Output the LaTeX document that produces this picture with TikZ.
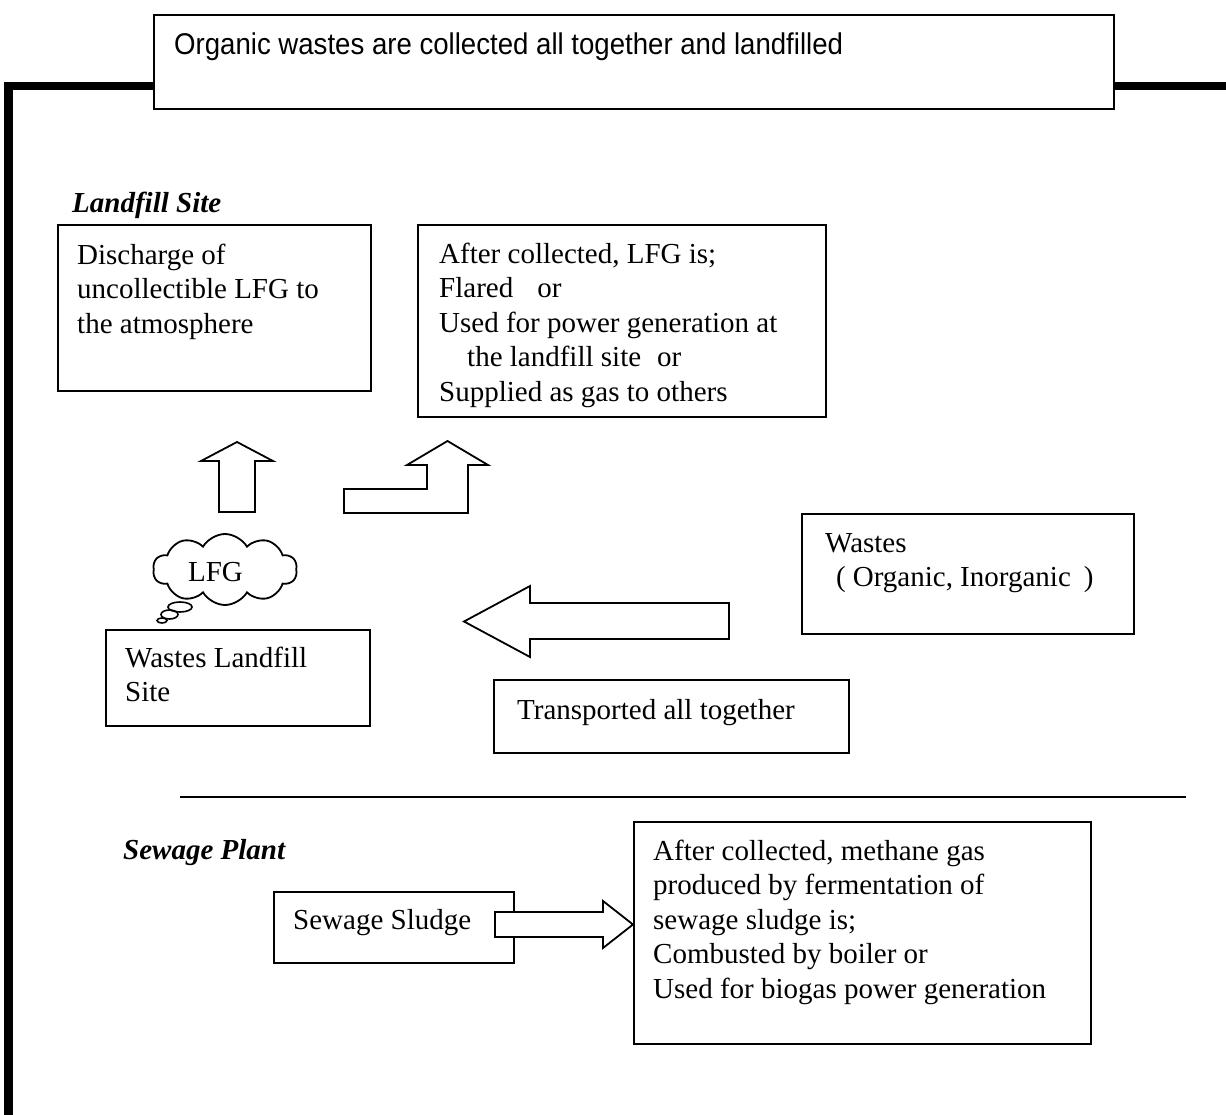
\documentclass[tikz,border=0pt]{standalone}
\usepackage{fontspec}
\setmainfont{Liberation Serif}
\newfontfamily\bannerfont[FakeStretch=0.92]{Liberation Sans}
\usetikzlibrary{shapes.symbols}
% strut fixing the height of the first text line
\newcommand{\firstlinestrut}{\rule{0pt}{22pt}}

\begin{document}
\begin{tikzpicture}[x=1pt,y=-1pt,
  box/.style={draw, line width=1.8pt, rectangle, inner sep=0pt, anchor=north west},
  txt/.style={inner sep=0pt, anchor=north west, align=left, font=\fontsize{29}{34.5}\selectfont},
  heading/.style={inner sep=0pt, anchor=base west, font=\fontsize{29}{34.5}\selectfont\bfseries\itshape},
  frameline/.style={line width=8.5pt, line join=miter, line cap=butt},
  blockarrow/.style={draw, fill=white, line width=1.8pt, line join=miter},
]
\useasboundingbox (0,0) rectangle (1226,1115);

% heavy outer frame
\draw[frameline] (153,86) -- (8.5,86) -- (8.5,1115);
\draw[frameline] (1113,86) -- (1226,86);

% title banner
\node[box, fill=white, minimum width=960pt, minimum height=94pt] (banner) at (153,14) {};
\node[anchor=base west, inner sep=0pt, font=\bannerfont\fontsize{30}{36}\selectfont] (bannertxt) at (174,55)
  {Organic wastes are collected all together and landfilled};

% ---- landfill site ----
\node[heading] (lfhead) at (72,213) {Landfill Site};

\node[box, minimum width=313pt, minimum height=166pt] (discharge) at (57,224) {};
\node[txt] (dischargetxt) at (77,242)
  {\firstlinestrut Discharge of\\uncollectible LFG to\\the atmosphere};

\node[box, minimum width=408pt, minimum height=192pt] (collected) at (417,224) {};
\node[txt] (collectedtxt) at (439,241)
  {\firstlinestrut After collected, LFG is;\\
   Flared\hspace{24pt}or\\
   Used for power generation at\\
   \hspace*{28pt}the landfill site\hspace{16pt}or\\
   Supplied as gas to others};

% upward block arrows
\draw[blockarrow] (219,512) -- (219,461) -- (201,461) -- (237,442) -- (273,461)
  -- (255,461) -- (255,512) -- cycle;
\draw[blockarrow] (344,513) -- (344,489) -- (427,489) -- (427,465) -- (407,465)
  -- (447.5,441) -- (488,465) -- (468,465) -- (468,513) -- cycle;

% gas cloud
\node[cloud, draw, line width=1.8pt, cloud ignores aspect, cloud puffs=10, cloud puff arc=120,
  minimum width=144pt, minimum height=71pt, inner sep=0pt] (lfgcloud) at (225,569.5) {};
\node[anchor=base, inner sep=0pt, font=\fontsize{29}{34.5}\selectfont] (lfgtxt) at (215.5,581) {LFG};
\draw[line width=1.6pt] (180,607) ellipse [x radius=12pt, y radius=5pt];
\draw[line width=1.6pt] (169.5,614.5) ellipse [x radius=8.5pt, y radius=4.5pt];
\draw[line width=1.6pt] (162,620.5) ellipse [x radius=5pt, y radius=2.5pt];

\node[box, minimum width=264pt, minimum height=96pt] (landfill) at (105,629) {};
\node[txt] (landfilltxt) at (125,645) {\firstlinestrut Wastes Landfill\\Site};

% wastes and transport
\node[box, minimum width=332pt, minimum height=120pt] (wastes) at (801,513) {};
\node[txt] (wastestxt) at (825,530)
  {\firstlinestrut Wastes\\\hspace*{11pt}(\hspace{7pt}Organic, Inorganic\hspace{13pt})};

\draw[blockarrow] (729,603) -- (530,603) -- (530,586) -- (464,621.5) -- (530,657)
  -- (530,639) -- (729,639) -- cycle;

\node[box, minimum width=355pt, minimum height=73pt] (transport) at (493,679) {};
\node[txt] (transporttxt) at (517,697) {\firstlinestrut Transported all together};

% separator
\draw[line width=1.5pt] (180,797) -- (1186,797);

% ---- sewage plant ----
\node[heading] (swhead) at (123,859) {Sewage Plant};

\node[box, minimum width=240pt, minimum height=71pt] (sludge) at (273,891) {};
\node[txt] (sludgetxt) at (293,907) {\firstlinestrut Sewage Sludge};

\node[box, minimum width=457pt, minimum height=222pt] (methane) at (633,821) {};
\node[txt] (methanetxt) at (653,838)
  {\firstlinestrut After collected, methane gas\\
   produced by fermentation of\\
   sewage sludge is;\\
   Combusted by boiler or\\
   Used for biogas power generation};

\draw[blockarrow] (495,912) -- (603,912) -- (603,901) -- (633,924.5) -- (603,948)
  -- (603,937) -- (495,937) -- cycle;
\end{tikzpicture}
\end{document}
